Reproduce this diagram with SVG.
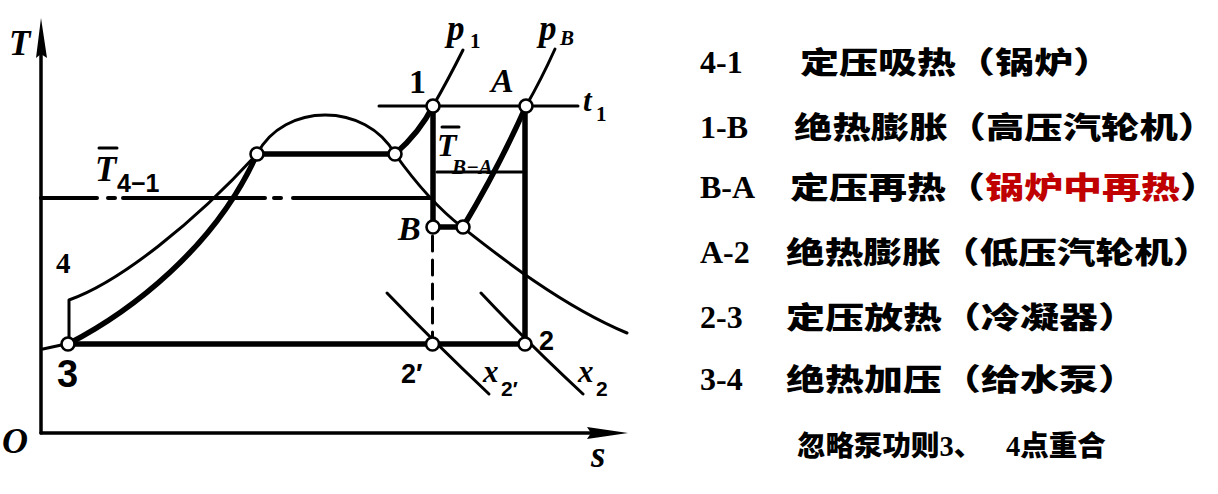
<svg xmlns="http://www.w3.org/2000/svg" width="1218" height="494" viewBox="0 0 1218 494">
<style>
.ln{stroke:#000;fill:none;stroke-linecap:round;stroke-linejoin:round}
.thick{stroke-width:5.5}
.thin{stroke-width:3}
.axis{stroke-width:3.5}
.pt{fill:#fff;stroke:#000;stroke-width:2.6}
.it{font-family:"Liberation Serif",serif;font-weight:bold;font-style:italic;fill:#000}
.up{font-family:"Liberation Serif",serif;font-weight:bold;fill:#000}
.sn{font-family:"Liberation Sans",sans-serif;font-weight:bold;fill:#000}
.num{font-family:"Liberation Serif",serif;font-weight:bold;font-size:32px;fill:#000}
.cjk{font-family:"Noto Sans CJK SC",sans-serif;font-weight:900;font-size:30px;fill:#000}
.red{fill:#c00000}
.note{font-family:"Liberation Serif","Noto Sans CJK SC",sans-serif;font-weight:900;font-size:28.5px;fill:#000}
</style>
<rect width="1218" height="494" fill="#fff"/>
<g id="axes">
  <line class="ln axis" x1="41" y1="433" x2="41" y2="50"/>
  <line class="ln axis" x1="41" y1="433" x2="595" y2="433"/>
  <polygon points="41,18 47,58 41,54 36,58" fill="#000"/>
  <polygon points="628,433 587,439 591,433 587,427" fill="#000"/>
  <text class="it" x="9" y="55" font-size="35">T</text>
  <text class="it" x="2" y="453" font-size="36">O</text>
  <text class="it" x="591" y="467" font-size="37">s</text>
</g>
<g id="connectors">
  <path class="ln thin" d="M43,349 L66,344"/>
  <path class="ln thick" d="M68,344 C130,312 215,248 257,154"/>
  <path class="ln thin" d="M257,154 C284,102 366,102 395,154"/>
  <path class="ln thin" stroke-width="3.4" d="M395,154 C415,182 440,210 462,227 C495,253 560,305 627,333"/>
  <path class="ln thin" d="M69,344 L69,300 C120,282 195,222 257,154"/>
  <line class="ln thick" x1="257" y1="154" x2="395" y2="154"/>
  <path class="ln thick" d="M395,154 Q420,132 433,106"/>
  <path class="ln thin" d="M433,106 Q448,80 463,50"/>
  <line class="ln thick" x1="433" y1="106" x2="433" y2="227"/>
  <line class="ln thin" x1="432.5" y1="236" x2="432.5" y2="338" stroke-dasharray="15 9" stroke-linecap="butt"/>
  <line class="ln thick" x1="433" y1="227" x2="463" y2="227"/>
  <path class="ln thick" d="M463,227 Q500,165 526,106"/>
  <path class="ln thin" d="M526,106 Q541,80 555,49"/>
  <line class="ln thick" x1="525" y1="106" x2="525" y2="344"/>
  <line class="ln thick" x1="68" y1="344" x2="525" y2="344"/>
  <line class="ln thin" x1="379" y1="106" x2="578" y2="106"/>
  <line class="ln thin" x1="437" y1="172" x2="522" y2="172"/>
  <g class="ln" stroke-width="4" stroke-linecap="butt">
    <line x1="41" y1="198" x2="97" y2="198"/>
    <line x1="108" y1="198" x2="115" y2="198"/>
    <line x1="123" y1="198" x2="265" y2="198"/>
    <line x1="274" y1="198" x2="281" y2="198"/>
    <line x1="293" y1="198" x2="433" y2="198"/>
  </g>
  <path class="ln thin" d="M387,293 Q434,342 489,394"/>
  <path class="ln thin" d="M481,293 Q527,342 583,394"/>
</g>
<g id="points">
  <circle class="pt" cx="68" cy="344" r="6.5"/>
  <circle class="pt" cx="432.5" cy="344" r="6.5"/>
  <circle class="pt" cx="525" cy="344" r="6.5"/>
  <circle class="pt" cx="433" cy="227" r="6.5"/>
  <circle class="pt" cx="463" cy="227" r="6.5"/>
  <circle class="pt" cx="433" cy="106" r="6.5"/>
  <circle class="pt" cx="526" cy="106" r="6.5"/>
  <circle class="pt" cx="257" cy="154" r="6.5"/>
  <circle class="pt" cx="395" cy="154" r="6.5"/>
</g>
<g id="point-labels">
  <text class="up" x="409" y="93" font-size="34">1</text>
  <text class="it" x="491" y="92" font-size="34">A</text>
  <text class="it" x="398" y="240" font-size="34">B</text>
  <text class="up" x="56" y="273" font-size="29" font-weight="normal">4</text>
  <text class="sn" x="57" y="387" font-size="38">3</text>
  <text class="sn" x="401" y="383" font-size="27">2′</text>
  <text class="sn" x="539" y="350" font-size="27">2</text>
</g>
<g id="curve-labels">
  <text class="it" x="447" y="40" font-size="35">p</text>
  <text class="up" x="470" y="48" font-size="21">1</text>
  <text class="it" x="539" y="40" font-size="35">p</text>
  <text class="it" x="560" y="45" font-size="21">B</text>
  <text class="it" x="583" y="111" font-size="31">t</text>
  <text class="up" x="596" y="121" font-size="21">1</text>
  <text class="it" x="483" y="382" font-size="31">x</text>
  <text class="sn" x="501" y="396" font-size="21">2′</text>
  <text class="it" x="578" y="382" font-size="31">x</text>
  <text class="sn" x="596" y="396" font-size="21">2</text>
  <text class="it" x="95" y="181" font-size="35">T</text>
  <line class="ln" stroke-width="3" x1="99" y1="148" x2="117" y2="148"/>
  <text class="sn" x="117" y="192" font-size="25">4−1</text>
  <text class="it" x="437" y="156" font-size="32">T</text>
  <line class="ln" stroke-width="3" x1="442" y1="127" x2="459" y2="127"/>
  <text class="it" x="452" y="174" font-size="21">B−A</text>
</g>
<g id="legend">
  <text class="num" x="700" y="73">4-1</text>
  <text class="cjk" transform="translate(800,73) scale(1.3,1)">定压吸热（锅炉）</text>
  <text class="num" x="700" y="138">1-B</text>
  <text class="cjk" transform="translate(794,138) scale(1.28,1)">绝热膨胀（高压汽轮机）</text>
  <text class="num" x="700" y="198">B-A</text>
  <text class="cjk" transform="translate(790,198) scale(1.3,1)">定压再热（<tspan class="red">锅炉中再热</tspan>）</text>
  <text class="num" x="700" y="263">A-2</text>
  <text class="cjk" transform="translate(786,263) scale(1.29,1)">绝热膨胀（低压汽轮机）</text>
  <text class="num" x="700" y="328">2-3</text>
  <text class="cjk" transform="translate(786,328) scale(1.3,1)">定压放热（冷凝器）</text>
  <text class="num" x="700" y="390">3-4</text>
  <text class="cjk" transform="translate(786,390) scale(1.3,1)">绝热加压（给水泵）</text>
  <text class="note" x="797" y="456">忽略泵功则3、<tspan x="1006">4点重合</tspan></text>
</g>
</svg>
